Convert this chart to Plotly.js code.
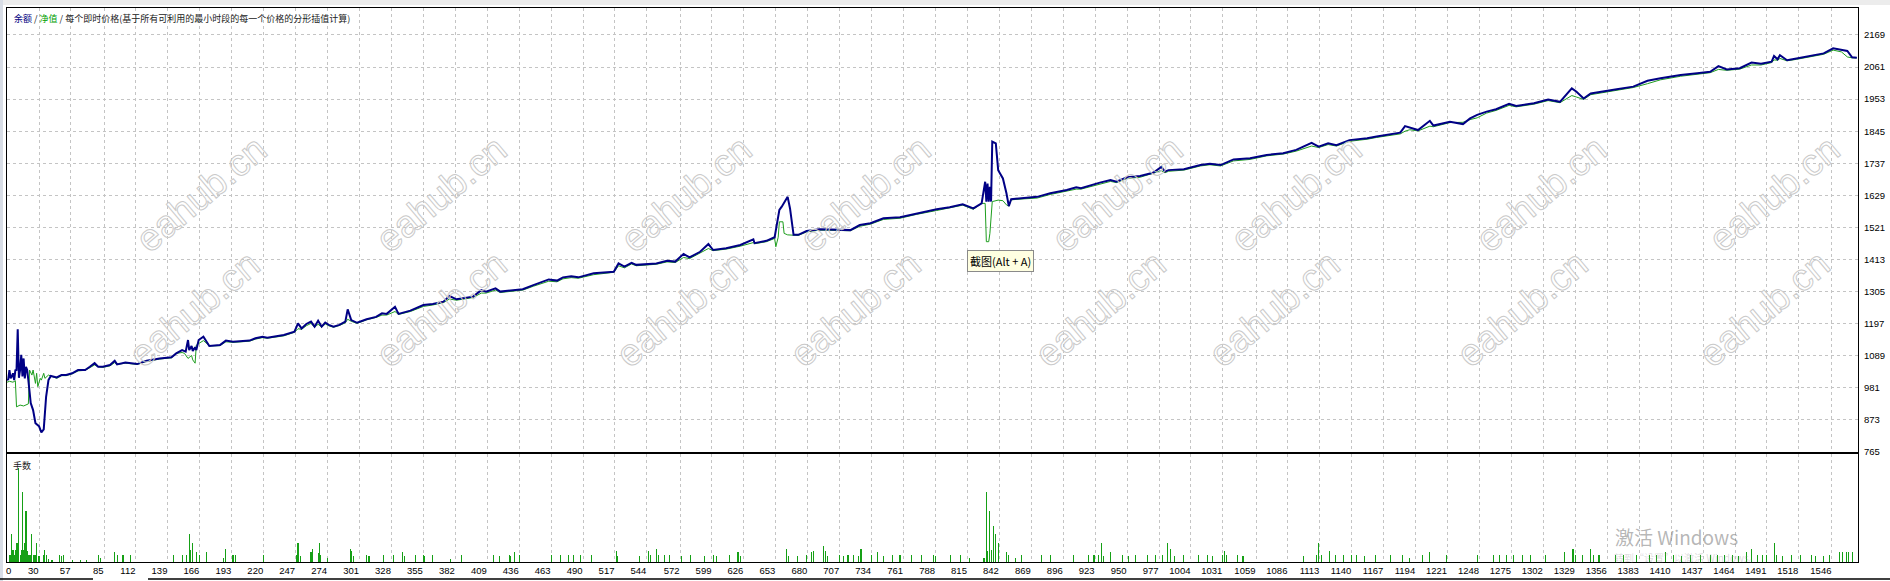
<!DOCTYPE html>
<html>
<head>
<meta charset="utf-8">
<script src="https://cdn.plot.ly/plotly-3.0.1.min.js"></script>
<style>
html,body{margin:0;padding:0;background:#fff;}
#chart{width:1890px;height:581px;}
</style>
</head>
<body>
<div id="chart"></div>
<script>
// ---- Balance (余额) : trade number / value ----
const balanceTrades = [3,4,5,6,7,8,9,10,11,12,13,14,15,16,17,18,19,20,21,23,25,27,30,32,34,35,36,38,40,45,49,53,58,63,69,73,77,80,84,90,94,96,103,113,121,132,142,146,151,154,156,157,159,160,162,163,165,169,172,174,183,188,194,208,213,219,223,237,246,249,252,256,260,263,266,269,272,275,279,284,289,291,294,299,307,315,320,324,331,334,344,355,363,372,377,383,397,404,408,416,420,431,439,448,461,468,473,480,486,499,516,520,525,531,535,552,561,568,575,580,589,596,600,611,623,634,635,645,652,656,658,663,665,668,672,679,690,716,724,733,744,758,772,789,800,811,820,827,830,831,832,833,834,835,836,839,841,845,848,850,852,862,874,885,899,907,911,927,936,941,950,961,972,979,982,985,998,1012,1020,1029,1040,1054,1068,1082,1093,1106,1112,1120,1127,1138,1153,1161,1181,1185,1189,1196,1206,1209,1223,1234,1240,1246,1254,1262,1273,1279,1294,1306,1316,1326,1330,1336,1342,1353,1364,1378,1390,1401,1418,1432,1443,1450,1457,1468,1478,1486,1495,1497,1500,1502,1508,1516,1527,1539,1547,1554,1559,1563,1567];
const balanceValues = [1007,1010,1041,1013,1020,1030,1007,1040,1041,1178,1015,1041,1092,1019,1080,1013,1052,1041,1007,930,906,862,852,831,841,884,951,1007,1021,1016,1024,1024,1030,1041,1041,1052,1064,1052,1052,1058,1072,1060,1066,1061,1072,1080,1084,1097,1108,1103,1142,1108,1122,1105,1118,1108,1142,1153,1136,1122,1125,1140,1136,1140,1148,1153,1150,1159,1170,1198,1181,1196,1204,1187,1207,1187,1201,1193,1187,1193,1204,1245,1209,1200,1212,1220,1232,1230,1254,1230,1241,1260,1263,1271,1290,1279,1288,1310,1305,1316,1305,1310,1313,1327,1346,1342,1353,1357,1353,1367,1372,1400,1389,1402,1395,1400,1409,1406,1432,1420,1439,1465,1445,1451,1462,1481,1468,1476,1488,1580,1591,1624,1585,1496,1496,1509,1515,1512,1529,1535,1552,1555,1568,1582,1589,1599,1585,1602,1675,1608,1669,1608,1658,1608,1810,1804,1714,1686,1636,1593,1616,1619,1624,1636,1647,1656,1653,1672,1681,1675,1690,1694,1705,1725,1709,1714,1717,1731,1735,1731,1750,1754,1765,1771,1782,1806,1793,1804,1798,1815,1821,1827,1840,1862,1858,1849,1880,1864,1877,1869,1888,1900,1911,1919,1937,1930,1939,1952,1944,1989,1978,1955,1972,1978,1986,1995,2015,2023,2034,2040,2045,2064,2053,2057,2076,2072,2079,2098,2087,2101,2084,2090,2098,2107,2124,2118,2115,2094,2092];

// ---- Equity (净值) : trade number / value ----
const equityTrades = [3,5,8,10,11,14,17,20,21,22,24,25,27,28,29,31,32,34,35,38,40,45,49,53,58,63,69,73,77,80,84,90,94,96,103,113,121,132,142,146,151,153,156,159,160,162,163,165,169,172,174,183,188,194,208,213,219,223,237,246,249,252,256,260,263,266,269,272,275,279,284,289,291,294,299,307,315,320,324,331,334,344,355,363,372,377,383,397,404,408,416,420,431,439,448,461,468,473,480,486,499,516,520,525,531,535,552,561,568,575,580,589,596,600,611,623,634,635,645,652,653,655,656,659,660,663,668,672,679,690,716,724,733,744,758,772,789,800,811,820,827,830,831,833,834,836,839,841,845,848,850,852,862,874,885,899,907,911,927,936,941,950,961,972,979,982,985,998,1012,1020,1029,1040,1054,1068,1082,1093,1106,1112,1120,1127,1138,1153,1161,1181,1185,1189,1196,1206,1209,1223,1234,1240,1246,1254,1262,1273,1279,1294,1306,1316,1326,1330,1336,1342,1353,1364,1378,1390,1401,1418,1432,1443,1450,1457,1468,1478,1486,1495,1497,1500,1502,1508,1516,1527,1539,1547,1554,1559,1563,1567];
const equityValues = [1000,1003,1000,1005,917,923,920,927,927,1041,1024,1041,996,1030,985,1013,1007,1030,1013,1024,1021,1013,1022,1022,1028,1038,1040,1048,1058,1052,1050,1055,1066,1060,1064,1060,1070,1078,1082,1097,1100,1097,1080,1090,1075,1064,1125,1130,1140,1130,1122,1123,1136,1134,1138,1145,1150,1148,1156,1168,1180,1178,1190,1198,1185,1195,1185,1196,1190,1185,1191,1200,1212,1205,1198,1210,1218,1226,1226,1238,1228,1238,1255,1260,1268,1280,1276,1285,1300,1300,1310,1302,1307,1310,1323,1340,1338,1348,1352,1350,1362,1370,1392,1385,1398,1392,1397,1405,1403,1420,1416,1435,1450,1443,1448,1458,1470,1466,1473,1484,1456,1488,1540,1540,1501,1496,1496,1494,1506,1512,1510,1525,1532,1548,1552,1565,1578,1586,1596,1582,1602,1602,1473,1473,1501,1608,1611,1613,1611,1597,1593,1614,1617,1620,1632,1643,1650,1650,1668,1676,1672,1686,1690,1702,1712,1705,1710,1714,1728,1732,1728,1745,1750,1762,1768,1778,1795,1790,1800,1795,1811,1818,1824,1836,1845,1850,1846,1862,1860,1874,1875,1884,1890,1906,1915,1932,1927,1936,1948,1941,1965,1960,1952,1968,1975,1982,1992,2005,2018,2030,2037,2042,2053,2050,2054,2068,2068,2076,2085,2084,2090,2082,2087,2095,2104,2118,2112,2095,2092,2092];

// ---- Lots (手数) per trade ----
const lotTrades = [5,6,7,8,9,10,11,12,13,14,15,16,17,18,19,20,21,22,23,24,25,26,27,28,30,34,35,36,38,41,47,49,51,58,65,70,80,82,94,96,101,107,144,151,155,157,158,160,163,166,172,186,188,194,196,220,248,249,251,260,261,266,267,268,274,293,294,296,307,309,321,330,337,339,348,355,356,363,378,387,414,419,428,429,432,436,463,471,478,482,488,497,518,519,538,545,547,552,554,559,563,573,581,593,600,603,614,621,623,662,664,671,679,683,685,693,695,697,707,710,714,719,723,725,734,739,744,752,758,768,776,786,788,801,809,817,829,831,832,834,835,837,839,841,848,850,856,861,878,885,905,917,922,926,928,930,936,946,951,957,967,974,980,984,987,990,998,1010,1018,1022,1031,1032,1034,1043,1048,1099,1110,1112,1114,1121,1126,1133,1140,1144,1151,1160,1173,1183,1189,1200,1206,1220,1246,1260,1265,1271,1277,1284,1291,1304,1320,1327,1329,1335,1342,1344,1349,1363,1370,1381,1392,1398,1405,1412,1419,1426,1435,1443,1449,1455,1462,1467,1474,1478,1483,1487,1491,1497,1499,1504,1512,1519,1529,1532,1539,1544,1552,1555,1558,1560,1563];
const lotValues = [0.07,0.07,0.28,0.12,0.07,0.12,0.19,0.19,0.95,0.07,0.12,0.71,0.12,0.19,0.51,0.11,0.07,0.07,0.07,0.28,0.07,0.07,0.07,0.19,0.06,0.07,0.12,0.07,0.03,0.02,0.07,0.06,0.07,0.02,0.02,0.02,0.07,0.04,0.10,0.07,0.07,0.07,0.07,0.07,0.07,0.28,0.12,0.19,0.10,0.07,0.10,0.04,0.13,0.07,0.07,0.07,0.07,0.19,0.06,0.10,0.13,0.09,0.19,0.07,0.04,0.13,0.11,0.06,0.07,0.06,0.07,0.07,0.10,0.06,0.07,0.07,0.06,0.07,0.03,0.07,0.07,0.06,0.07,0.06,0.10,0.07,0.07,0.07,0.07,0.07,0.07,0.07,0.11,0.06,0.06,0.11,0.07,0.13,0.07,0.07,0.07,0.06,0.07,0.06,0.07,0.06,0.07,0.10,0.06,0.13,0.06,0.06,0.07,0.10,0.11,0.16,0.11,0.06,0.07,0.06,0.07,0.07,0.06,0.13,0.07,0.10,0.06,0.07,0.07,0.07,0.07,0.07,0.06,0.07,0.07,0.04,0.04,0.71,0.11,0.51,0.12,0.36,0.28,0.19,0.10,0.07,0.04,0.07,0.07,0.07,0.07,0.07,0.07,0.07,0.19,0.06,0.10,0.07,0.06,0.07,0.07,0.07,0.07,0.19,0.13,0.06,0.07,0.07,0.07,0.06,0.07,0.11,0.07,0.07,0.06,0.06,0.07,0.19,0.07,0.11,0.07,0.07,0.07,0.07,0.06,0.07,0.07,0.07,0.04,0.07,0.10,0.07,0.07,0.07,0.07,0.07,0.07,0.07,0.07,0.07,0.10,0.13,0.07,0.07,0.13,0.07,0.07,0.07,0.07,0.07,0.07,0.07,0.10,0.07,0.06,0.07,0.07,0.07,0.07,0.07,0.07,0.06,0.10,0.13,0.07,0.07,0.07,0.19,0.07,0.06,0.07,0.07,0.07,0.06,0.06,0.07,0.10,0.10,0.10,0.10,0.10];

// ---- Axis labels ----
const xTickValues = [30,57,85,112,139,166,193,220,247,274,301,328,355,382,409,436,463,490,517,544,572,599,626,653,680,707,734,761,788,815,842,869,896,923,950,977,1004,1031,1059,1086,1113,1140,1167,1194,1221,1248,1275,1302,1329,1356,1383,1410,1437,1464,1491,1518,1546];
const xTickLabels = xTickValues.map(String);
const yTickValues = [765,873,981,1089,1197,1305,1413,1521,1629,1737,1845,1953,2061,2169];
const titleParts = ["余额", "净值", "每个即时价格(基于所有可利用的最小时段的每一个价格的分形插值计算)"];
const volumeLabel = "手数";
const watermarkText = "eahub.cn";

// ---- pixel helpers for decorations (paper coordinates) ----
const L = 7, R = 1858, T = 8, B = 562;
const px = x => (x - L) / (R - L);
const py = y => (B - y) / (B - T);

const grid = {showgrid:true, gridcolor:'#c4c4c4', griddash:'3px,3px', gridwidth:1};
const frame = {showline:true, mirror:true, linecolor:'#000', linewidth:1, zeroline:false, ticks:''};
const tickFont = {family:'Liberation Sans, Arial, sans-serif', size:9.5, color:'#000'};

const traces = [
  {x: equityTrades, y: equityValues, type:'scatter', mode:'lines', xaxis:'x', yaxis:'y',
   line:{color:'#1e9e1e', width:1}, hoverinfo:'skip'},
  {x: balanceTrades, y: balanceValues, type:'scatter', mode:'lines', xaxis:'x', yaxis:'y',
   line:{color:'#000085', width:2}, hoverinfo:'skip'},
  {x: lotTrades, y: lotValues, type:'bar', xaxis:'x2', yaxis:'y2', width:0.9,
   marker:{color:'#16a016', line:{width:0}}, hoverinfo:'skip'}
];

const annotations = [
  {xref:'paper', yref:'paper', x:px(12), y:py(10), xanchor:'left', yanchor:'top', showarrow:false,
   text:'<span style="color:#000080">'+titleParts[0]+'</span> / <span style="color:#00a000">'+titleParts[1]+'</span> / '+titleParts[2],
   font:{family:'Noto Sans CJK SC, sans-serif', size:9, color:'#222'}},
  {xref:'paper', yref:'paper', x:px(11), y:py(457), xanchor:'left', yanchor:'top', showarrow:false,
   text:volumeLabel, font:{family:'Noto Sans CJK SC, sans-serif', size:9, color:'#222'}},
  {xref:'paper', yref:'paper', x:px(13), y:py(570), xanchor:'right', yanchor:'middle', showarrow:false,
   text:'0', font:tickFont},
  {xref:'paper', yref:'paper', x:px(1000.5), y:py(260.5), xanchor:'center', yanchor:'middle', showarrow:false,
   text:'截图(Alt + A)', bgcolor:'#ffffe1', bordercolor:'#8a8a8a', borderwidth:1, borderpad:2,
   font:{family:'Noto Sans CJK SC, sans-serif', size:11, color:'#000'}},
  {xref:'paper', yref:'paper', x:px(1676), y:py(536), xanchor:'center', yanchor:'middle', showarrow:false,
   text:'激活 Windows', font:{family:'Noto Sans CJK SC, sans-serif', size:19, color:'rgba(120,120,120,0.55)'}},
  {xref:'paper', yref:'paper', x:px(1612), y:py(557), xanchor:'left', yanchor:'middle', showarrow:false,
   text:'转到“设置”以激活 Windows。', font:{family:'Noto Sans CJK SC, sans-serif', size:10, color:'rgba(140,140,140,0.3)'}}
];
const firstWatermark = annotations.length;
const wmTop = [125,365,610,865,1117,1372,1617,1850];
const wmBot = [118,365,605,855,1100,1350,1598,1840];
wmTop.forEach(x => annotations.push({xref:'paper', yref:'paper', x:px(x), y:py(125), showarrow:false,
  text:watermarkText, textangle:-40, font:{family:'Liberation Sans, Arial, sans-serif', size:38, color:'#d4d4d4'}}));
wmBot.forEach(x => annotations.push({xref:'paper', yref:'paper', x:px(x), y:py(378), showarrow:false,
  text:watermarkText, textangle:-40, font:{family:'Liberation Sans, Arial, sans-serif', size:38, color:'#d4d4d4'}}));

// hollow (outlined) watermark letters
let css = '';
for (let i = firstWatermark; i < annotations.length; i++) {
  css += '.annotation[data-index="'+i+'"] text{fill:none !important;stroke:#cacaca !important;stroke-width:1px !important;}\n';
}
const st = document.createElement('style');
st.textContent = css;
document.head.appendChild(st);

const shapes = [
  {type:'rect', xref:'paper', yref:'paper', x0:px(0), x1:px(1890), y0:py(0), y1:py(5), fillcolor:'#ececec', line:{width:0}, layer:'below'},
  {type:'rect', xref:'paper', yref:'paper', x0:px(0), x1:px(3), y0:py(0), y1:py(581), fillcolor:'#d8dde6', line:{width:0}, layer:'below'},
  {type:'line', xref:'paper', yref:'paper', x0:px(0), x1:px(93), y0:py(579), y1:py(579), line:{color:'#000', width:1.5}},
  {type:'line', xref:'paper', yref:'paper', x0:px(148), x1:px(1890), y0:py(579), y1:py(579), line:{color:'#000', width:1.5}}
];

const layout = {
  width:1890, height:581,
  margin:{l:L, r:1890-R, t:T, b:581-B, pad:0},
  paper_bgcolor:'#fff', plot_bgcolor:'#fff',
  showlegend:false, hovermode:false, bargap:0,
  xaxis:Object.assign({domain:[0,1], anchor:'y', range:[2.94,1568], tickvals:xTickValues, showticklabels:false}, grid, frame),
  yaxis:Object.assign({domain:[py(452),1], anchor:'x', side:'right', range:[765,2259.8], tickvals:yTickValues,
    ticktext:yTickValues.map(String), tickfont:tickFont, ticklabelstandoff:3}, grid, frame),
  xaxis2:Object.assign({domain:[0,1], anchor:'y2', range:[2.94,1568], tickvals:xTickValues, ticktext:xTickLabels,
    ticklabelposition:'outside left', tickfont:tickFont, tickangle:0}, grid, frame),
  yaxis2:Object.assign({domain:[0,py(454)], anchor:'x2', range:[0,1.09], showticklabels:false, showgrid:false}, frame),
  annotations:annotations,
  shapes:shapes
};

Plotly.newPlot('chart', traces, layout, {staticPlot:true, displayModeBar:false});
</script>
</body>
</html>
